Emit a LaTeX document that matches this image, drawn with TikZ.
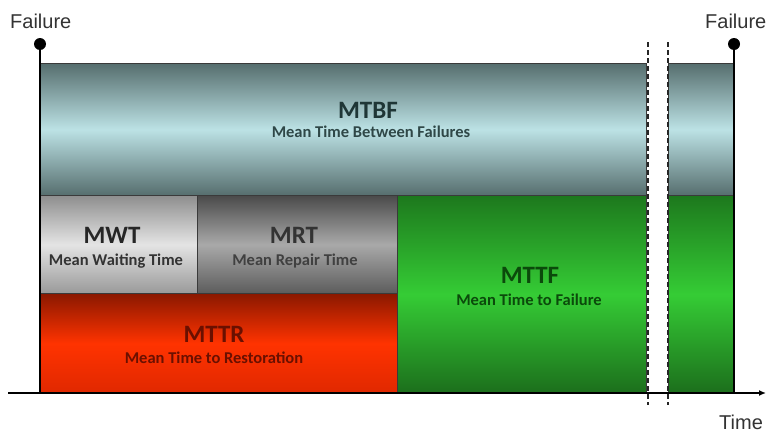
\documentclass[tikz,border=0pt]{standalone}
\usepackage{fontspec}
\setmainfont{Carlito}
\newfontfamily\arialf{Liberation Sans}
\usetikzlibrary{arrows.meta}
\definecolor{bdr}{HTML}{3A3A3A}
\definecolor{tealdark}{HTML}{566E6E}
\definecolor{teallight}{HTML}{BCE2E5}
\definecolor{gdark}{HTML}{8E8E8E}
\definecolor{glight}{HTML}{E4E4E4}
\definecolor{mdark}{HTML}{4A4A4A}
\definecolor{mlight}{HTML}{A9A9A9}
\definecolor{rdark}{HTML}{8A1800}
\definecolor{rlight}{HTML}{FF3300}
\definecolor{rbot}{HTML}{E02800}
\definecolor{grdark}{HTML}{1D781D}
\definecolor{grlight}{HTML}{35CC35}
\definecolor{grbot}{HTML}{1C6E1C}
\definecolor{txtteal}{HTML}{1F3636}
\definecolor{txtred}{HTML}{6A1000}
\definecolor{txtgreen}{HTML}{0B4A0B}
\definecolor{lbl}{HTML}{333333}
\tikzset{
  blk/.style={rectangle, draw=bdr, line width=0.9pt, anchor=north west, inner sep=0pt},
  mtbfbox/.style={blk, top color=tealdark, bottom color=tealdark, middle color=teallight},
  mwtbox/.style={blk, top color=gdark, bottom color=gdark!90, middle color=glight},
  mrtbox/.style={blk, top color=mdark, bottom color=mdark!90!white, middle color=mlight},
  mttrbox/.style={blk, top color=rdark, bottom color=rbot, middle color=rlight},
  mttfbox/.style={blk, top color=grdark, bottom color=grbot, middle color=grlight},
  ttl/.style={anchor=base, inner sep=0pt, font=\fontsize{25}{28}\selectfont\bfseries},
  sub/.style={anchor=base, inner sep=0pt, font=\fontsize{16.5}{19}\selectfont\bfseries},
  lab/.style={anchor=base west, inner sep=0pt, text=lbl, font=\arialf\fontsize{20}{24}\selectfont},
  brk/.style={draw=black!85, line width=1.6pt, dash pattern=on 5pt off 3pt},
  mark line/.style={draw=black, line width=1.4pt},
  dotm/.style={circle, fill=black, inner sep=0pt, minimum size=12pt}
}
\begin{document}
\begin{tikzpicture}[x=1pt,y=-1pt]
\useasboundingbox (0,0) rectangle (767,434);
% boxes
\node[mtbfbox, minimum width=606pt, minimum height=132pt] (mtbf) at (40,63) {};
\node[mtbfbox, minimum width=65pt, minimum height=132pt] (mtbfr) at (668,63) {};
\node[mwtbox, minimum width=157pt, minimum height=98pt] (mwt) at (40,195) {};
\node[mrtbox, minimum width=200pt, minimum height=98pt] (mrt) at (197,195) {};
\node[mttrbox, minimum width=357pt, minimum height=100pt] (mttr) at (40,293) {};
\node[mttfbox, minimum width=249pt, minimum height=198pt] (mttf) at (397,195) {};
\node[mttfbox, minimum width=65pt, minimum height=198pt] (mttfr) at (668,195) {};
% texts
\node[ttl, text=txtteal] (t1) at (368,118) {MTBF};
\node[sub, text=txtteal!90!teallight] (s1) at (371,137) {Mean Time Between Failures};
\node[ttl, text=black!85] (t2) at (112,243) {MWT};
\node[sub, text=black!80] (s2) at (116,265) {Mean Waiting Time};
\node[ttl, text=black!80] (t3) at (294,243) {MRT};
\node[sub, text=black!75] (s3) at (295,265) {Mean Repair Time};
\node[ttl, text=txtred] (t4) at (214,342) {MTTR};
\node[sub, text=txtred] (s4) at (214,363) {Mean Time to Restoration};
\node[ttl, text=txtgreen] (t5) at (530,283) {MTTF};
\node[sub, text=txtgreen] (s5) at (529,305) {Mean Time to Failure};
% axis
\coordinate (axl) at (8,393);
\coordinate (axr) at (766,393);
\draw[line width=1.4pt, -{Latex[length=7pt,width=6pt]}] (axl) -- (axr);
% failure marks
\node[dotm] (d1) at (40,44) {};
\node[dotm] (d2) at (734,44) {};
\coordinate (b1) at (40,393);
\coordinate (b2) at (734,393);
\draw[mark line] (d1.center) -- (b1);
\draw[mark line] (d2.center) -- (b2);
\node[lab] (f1) at (10,28) {Failure};
\node[lab] (f2) at (705,28) {Failure};
\node[lab] (tm) at (719,429) {Time};
% break lines
\coordinate (k1t) at (648,42);
\coordinate (k1b) at (648,405);
\coordinate (k2t) at (668,42);
\coordinate (k2b) at (668,405);
\draw[brk] (k1t) -- (k1b);
\draw[brk] (k2t) -- (k2b);
\end{tikzpicture}
\end{document}
